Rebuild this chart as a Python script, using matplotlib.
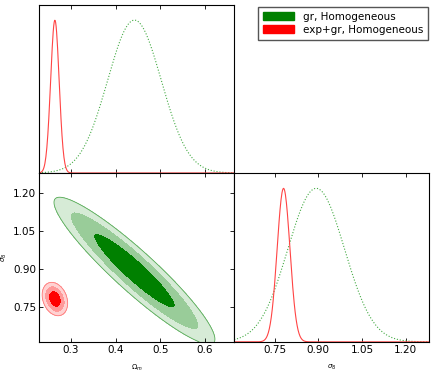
import numpy as np
import matplotlib
matplotlib.use("Agg")
import matplotlib.pyplot as plt
from matplotlib.patches import Patch

# values
labels = ["gr, Homogeneous", "exp+gr, Homogeneous"]
omega_mean = [0.442, 0.264]
omega_sigma = [0.060, 0.0095]
s8_mean = [0.893, 0.781]
s8_sigma = [0.097, 0.022]
rho = [-0.93, -0.25]
radii = [1.52, 2.4, 3.0]  # contour radii in sigma units

green_fill = ["#d6ebd6", "#99cc99", "#008000"]
red_fill = ["#ffd2d2", "#ff9999", "#ff0000"]
fills = [green_fill, red_fill]
edge = ["#55aa55", "#ff7777"]
line_col = ["#44aa44", "#ff4444"]
line_sty = [":", "-"]

omega_lim = (0.2285, 0.665)
s8_lim = (0.6115, 1.28)
omega_ticks = [0.3, 0.4, 0.5, 0.6]
s8_ticks = [0.75, 0.90, 1.05, 1.20]

fig = plt.figure(figsize=(4.36, 3.72), dpi=100)
x0, xm, x1 = 0.0895, 0.537, 0.984
y0, ym, y1 = 0.081, 0.535, 0.987
ax_top = fig.add_axes([x0, ym, xm - x0, y1 - ym])
ax_2d = fig.add_axes([x0, y0, xm - x0, ym - y0])
ax_right = fig.add_axes([xm, y0, x1 - xm, ym - y0])

for ax in (ax_top, ax_2d, ax_right):
    ax.tick_params(direction="in", length=3, width=0.6, labelsize=7.5,
                   top=True, right=True, pad=2)

# 2D contours
xo = np.linspace(omega_lim[0], omega_lim[1], 400)
ys = np.linspace(s8_lim[0], s8_lim[1], 400)
X, Y = np.meshgrid(xo, ys)
for i in range(2):
    dx = (X - omega_mean[i]) / omega_sigma[i]
    dy = (Y - s8_mean[i]) / s8_sigma[i]
    r = rho[i]
    chi = np.sqrt((dx**2 - 2 * r * dx * dy + dy**2) / (1 - r**2))
    lv = [0] + radii
    ax_2d.contourf(X, Y, chi, levels=lv, colors=fills[i][::-1])
    ax_2d.contour(X, Y, chi, levels=[radii[-1]], colors=[edge[i]], linewidths=0.6)
ax_2d.set_xlim(omega_lim)
ax_2d.set_ylim(s8_lim)
ax_2d.set_xticks(omega_ticks)
ax_2d.set_xticklabels(["%.1f" % t for t in omega_ticks])
ax_2d.set_yticks(s8_ticks)
ax_2d.set_yticklabels(["%.2f" % t for t in s8_ticks])
ax_2d.set_xlabel(r"$\Omega_m$", fontsize=5, labelpad=6)
ax_2d.set_ylabel(r"$\sigma_8$", fontsize=5, labelpad=3)

# 1D marginals
for i in range(2):
    p = np.exp(-0.5 * ((xo - omega_mean[i]) / omega_sigma[i])**2)
    ax_top.plot(xo, p, color=line_col[i], ls=line_sty[i], lw=0.8)
    q = np.exp(-0.5 * ((ys - s8_mean[i]) / s8_sigma[i])**2)
    ax_right.plot(ys, q, color=line_col[i], ls=line_sty[i], lw=0.8)

ax_top.set_xlim(omega_lim)
ax_top.set_ylim(0, 1.1)
ax_top.set_xticks(omega_ticks)
ax_top.set_xticklabels([])
ax_top.set_yticks([])

ax_right.set_xlim(s8_lim)
ax_right.set_ylim(0, 1.1)
ax_right.set_xticks(s8_ticks)
ax_right.set_xticklabels(["%.2f" % t for t in s8_ticks])
ax_right.set_yticks([])
ax_right.set_xlabel(r"$\sigma_8$", fontsize=5, labelpad=6)

handles = [Patch(color="#008000"), Patch(color="#ff0000")]
fig.legend(handles, labels, loc="upper right", bbox_to_anchor=(0.993, 0.995),
           fontsize=7.5, fancybox=False, edgecolor="#555555", framealpha=1,
           handlelength=3.0, handleheight=0.8, borderpad=0.45, labelspacing=0.3)

fig.savefig("out.png", dpi=100)
